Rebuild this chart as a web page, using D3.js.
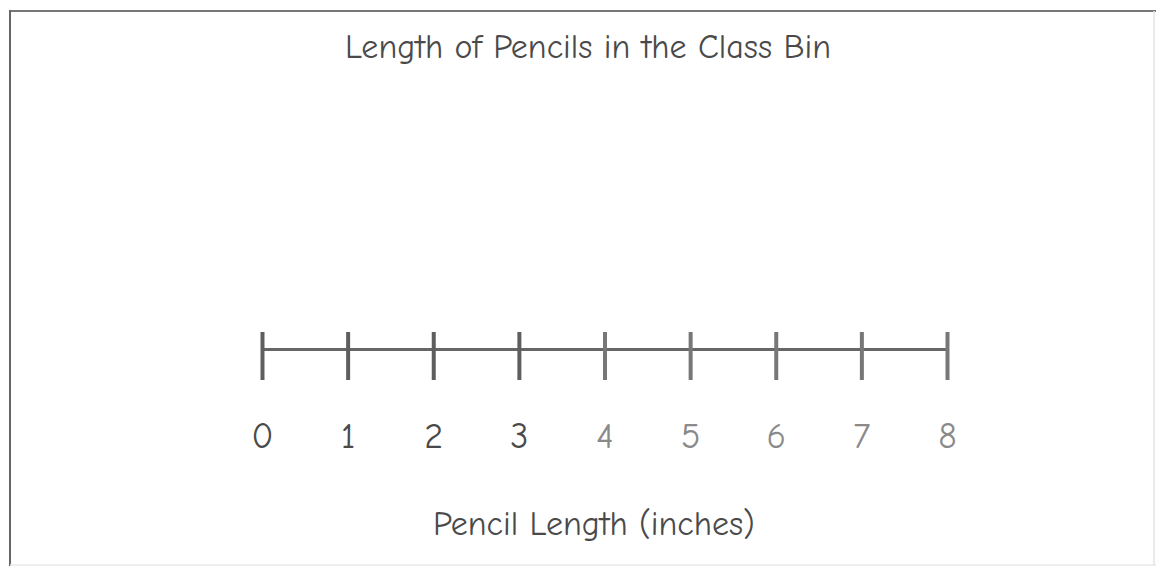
<!DOCTYPE html>
<html>
<head>
<meta charset="utf-8">
<script src="https://cdn.jsdelivr.net/npm/d3@7"></script>
<style>
  body { margin: 0; background: #fff; }
  text { font-family: "Comic Sans MS", "Comic Neue", "Noto Sans", sans-serif; }
</style>
</head>
<body>
<div id="chart"></div>
<script>
var title = "Length of Pencils in the Class Bin",
    xTitle = "Pencil Length (inches)";
var tickValues = [0, 1, 2, 3, 4, 5, 6, 7, 8];
var tickLabels = ["0", "1", "2", "3", "4", "5", "6", "7", "8"];

var width = 1156, height = 567;

var svg = d3.select("#chart")
  .append("svg")
    .attr("width", width)
    .attr("height", height);

// frame (scanned page border)
svg.append("line").attr("x1", 10).attr("x2", 1156).attr("y1", 11).attr("y2", 11)
  .attr("stroke", "#777").attr("stroke-width", 2);
svg.append("line").attr("x1", 10).attr("x2", 10).attr("y1", 10).attr("y2", 566)
  .attr("stroke", "#666").attr("stroke-width", 2);
svg.append("line").attr("x1", 1154).attr("x2", 1154).attr("y1", 11).attr("y2", 566)
  .attr("stroke", "#e4e4e4").attr("stroke-width", 1.5);
svg.append("line").attr("x1", 10).attr("x2", 1156).attr("y1", 565).attr("y2", 565)
  .attr("stroke", "#e8e8e8").attr("stroke-width", 1.5);

svg.append("text")
  .attr("x", 588).attr("y", 58)
  .attr("text-anchor", "middle")
  .attr("font-size", 34)
  .attr("fill", "#4a4a4a")
  .text(title);

var x = d3.scaleLinear()
  .domain([0, 8])
  .range([262, 947]);

var axis = svg.append("g")
  .attr("transform", "translate(0,349)")
  .call(d3.axisBottom(x)
    .tickValues(tickValues)
    .tickFormat(function(d, i) { return tickLabels[i]; })
    .tickSize(0)
    .tickPadding(0));

axis.select(".domain")
  .attr("stroke", "#666")
  .attr("stroke-width", 3);

axis.selectAll(".tick line")
  .attr("y1", -17)
  .attr("y2", 31)
  .attr("stroke", function(d) { return d < 4 ? "#5e5e5e" : "#777"; })
  .attr("stroke-width", 4);

axis.selectAll(".tick text")
  .attr("y", 99)
  .attr("dy", null)
  .attr("font-size", 36)
  .attr("font-family", null)
  .attr("fill", function(d) { return d < 4 ? "#4a4a4a" : "#8a8a8a"; });

svg.append("text")
  .attr("x", 594).attr("y", 535)
  .attr("text-anchor", "middle")
  .attr("font-size", 34)
  .attr("fill", "#4a4a4a")
  .text(xTitle);
</script>
</body>
</html>
